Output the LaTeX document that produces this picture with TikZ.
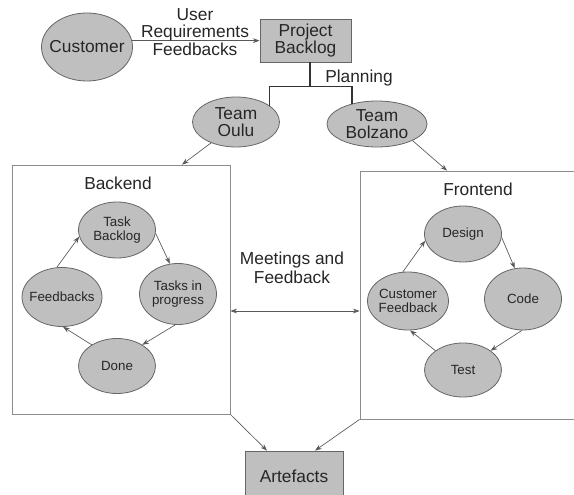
\documentclass[tikz,border=0pt]{standalone}
\usepackage{fontspec}
\setmainfont{Liberation Sans}
\usepackage{tikz}
\usetikzlibrary{shapes.geometric, arrows.meta}

\tikzset{
  ell/.style={ellipse, draw=black!60, fill=black!25, line width=0.6pt, inner sep=0pt},
  greybox/.style={rectangle, draw=black!60, fill=black!25, line width=0.6pt, inner sep=0pt},
  teambox/.style={rectangle, draw=black!45, fill=white, line width=0.6pt, inner sep=0pt},
  big/.style={font=\fontsize{13}{13}\selectfont, text=black!85, align=center},
  small/.style={font=\fontsize{10}{10.5}\selectfont, text=black!85, align=center},
  arr/.style={-{Stealth[length=5pt,width=3.6pt]}, draw=black!65, line width=0.5pt},
  tree/.style={draw=black!80, line width=1.2pt},
}

\begin{document}
\begin{tikzpicture}[x=0.75pt,y=0.75pt,yscale=-1,xscale=1]
\useasboundingbox (0,0) rectangle (574,495);

%Rectangles (teams' work areas)
\node[teambox, minimum width=163.5pt, minimum height=186.75pt] (backend) at (121,289.5) {};
\node[teambox, minimum width=180pt, minimum height=186pt] (front) at (480,295) {};

%Ellipse
\node[ell, minimum width=68.25pt, minimum height=51pt, label={[big]center:Customer}] (cust) at (87,47) {};
%Rectangle
\node[greybox, minimum width=68.25pt, minimum height=32.25pt, label={[big]center:Project\\Backlog}] (pb) at (305.5,40.5) {};
%Ellipse
\node[ell, minimum width=65.25pt, minimum height=37.5pt, label={[big]center:Team\\Oulu}] (oulu) at (236,122) {};
%Ellipse
\node[ell, minimum width=75pt, minimum height=34.5pt, label={[big]center:Team\\Bolzano}] (bolz) at (377,124) {};
%Rectangle
\node[greybox, minimum width=73.5pt, minimum height=37.5pt, label={[big]center:Artefacts}] (art) at (294,476) {};

%Ellipses (backend cycle)
\node[ell, minimum width=57.75pt, minimum height=42pt, label={[small]center:Task\\Backlog}] (tb) at (117,230) {};
\node[ell, minimum width=57.75pt, minimum height=45.75pt, label={[small]center:Tasks in\\progress}] (tip) at (178,294) {};
\node[ell, minimum width=57.75pt, minimum height=41.25pt, label={[small]center:Done}] (done) at (117,366) {};
\node[ell, minimum width=60pt, minimum height=44.25pt, label={[small]center:Feedbacks}] (fb) at (62,297) {};

%Ellipses (frontend cycle)
\node[ell, minimum width=57.75pt, minimum height=42pt, label={[small]center:Design}] (design) at (463,234) {};
\node[ell, minimum width=57.75pt, minimum height=46.5pt, label={[small]center:Code}] (code) at (523,299) {};
\node[ell, minimum width=57.75pt, minimum height=40.5pt, label={[small]center:Test}] (test) at (463,370) {};
\node[ell, minimum width=60.75pt, minimum height=43.5pt, label={[small]center:Customer\\Feedback}] (cf) at (408,301) {};

%Straight Lines
\draw[arr] (cust.8) -- (cust.8 -| pb.west);
\draw[tree] ([xshift=3.4pt]pb.south) -- ++(0,24) coordinate (plan);
\draw[tree] (oulu.26) |- (plan) -| (bolz.141);
\draw[arr] (oulu.-140) -- ([xshift=45.75pt]backend.north);
\draw[arr] (bolz.-25) -- ([xshift=-24.75pt]front.north);

%Straight Lines (backend cycle)
\draw[arr] (tb.-5) -- (tip.105);
\draw[arr] (tip.-95) -- (done.40);
\draw[arr] (done.140) -- (fb.-88);
\draw[arr] (fb.100) -- (tb.190);

%Straight Lines (frontend cycle)
\draw[arr] (design.-5) -- (code.105);
\draw[arr] (code.-92) -- (test.35);
\draw[arr] (test.145) -- (cf.-86);
\draw[arr] (cf.100) -- (design.190);

%Straight Lines
\coordinate (meet) at (295,311);
\draw[arr, {Stealth[length=5pt,width=3.6pt]}-{Stealth[length=5pt,width=3.6pt]}] (meet -| backend.east) -- (meet -| front.west);
\draw[arr] (backend.south east) -- ([xshift=-20.25pt]art.north);
\draw[arr] (front.south west) -- ([xshift=15.75pt]art.north);

% Text Node
\node[big] (reqtext) at (195,32) {User\\Requirements\\Feedbacks};
% Text Node
\node[big] (plantext) at (359,78) {Planning};
% Text Node
\node[big] (backtitle) at (118,183) {Backend};
% Text Node
\node[big] (fronttitle) at (478,189) {Frontend};
% Text Node
\node[big, font=\fontsize{13}{14.5}\selectfont] (meettext) at (292,268) {Meetings and\\Feedback};

\end{tikzpicture}
\end{document}
